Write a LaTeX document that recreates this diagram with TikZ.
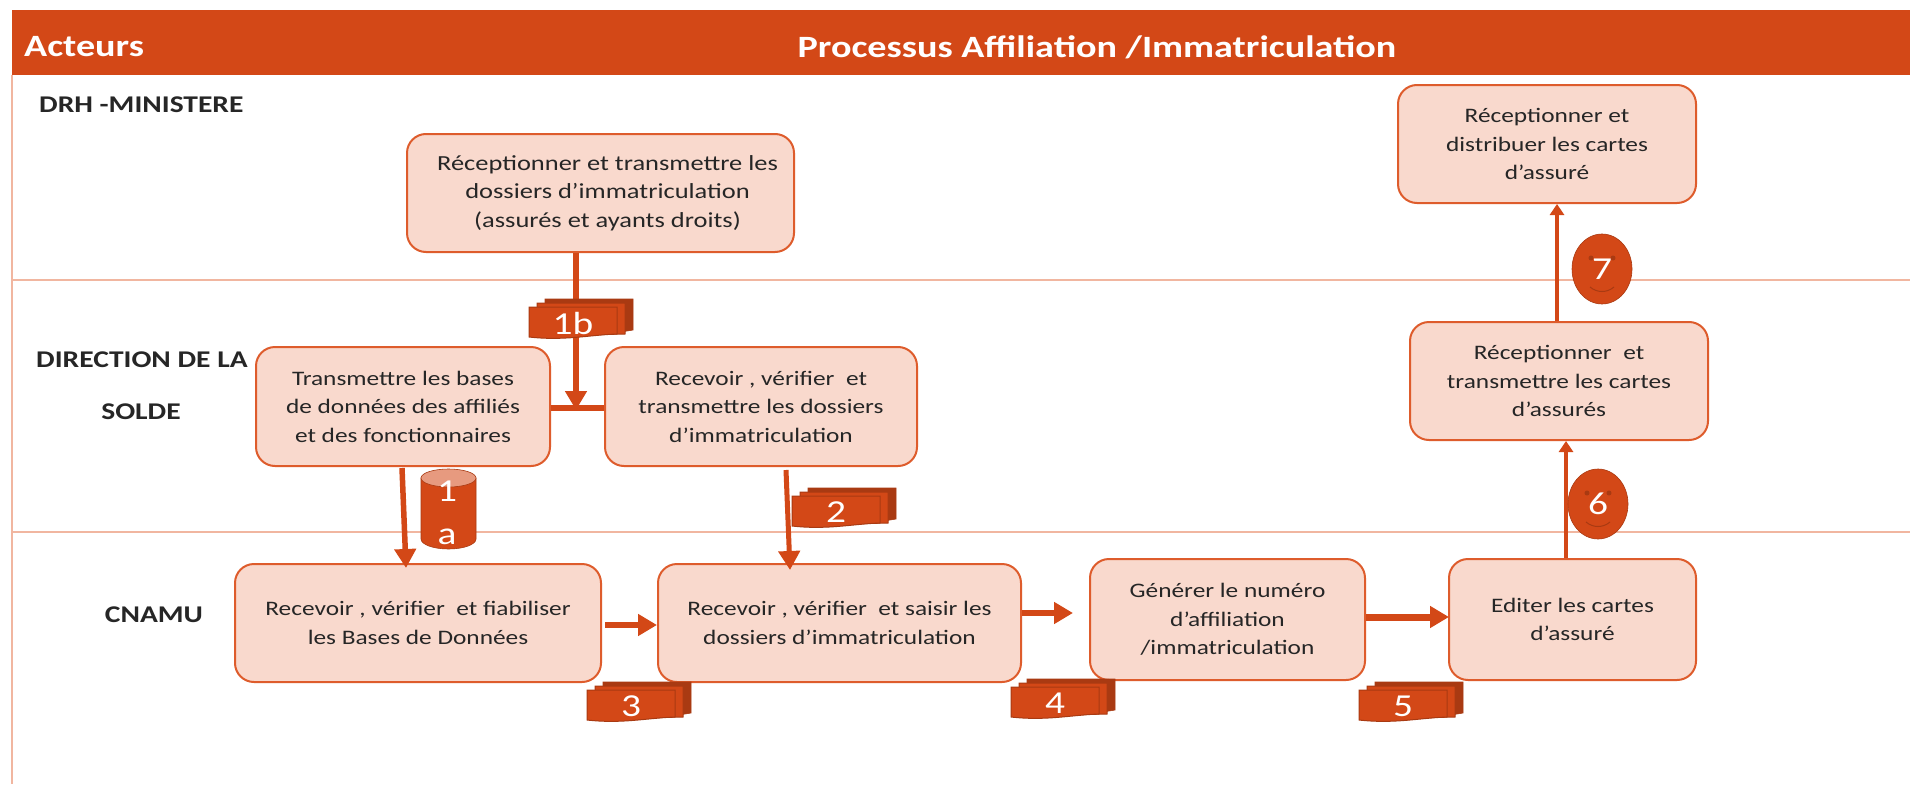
\documentclass[tikz,border=0pt]{standalone}
\usepackage{fontspec}
\setmainfont[FakeStretch=1.23]{Carlito}
\usetikzlibrary{arrows.meta,calc,shapes.geometric}
\definecolor{orangeA}{HTML}{D34817}
\definecolor{orangeB}{HTML}{DE5C2C}
\definecolor{orangeD}{HTML}{A93A12}
\definecolor{fillA}{HTML}{F9D9CD}
\definecolor{laneC}{HTML}{F1B6A0}
\tikzset{
  procbox/.style={draw=orangeB,fill=fillA,line width=2pt,rounded corners=19pt,align=center,
    text=black!85,font=\fontsize{20.6}{28.5}\selectfont,inner sep=0pt},
  wideproc/.style={procbox,font=\fontsize{21.5}{28.5}\selectfont},
  lane/.style={draw=laneC,line width=1.6pt},
  actor/.style={font=\bfseries\fontsize{24}{30}\selectfont,text=black!85,inner sep=0pt},
  headtext/.style={font=\bfseries\fontsize{31}{36}\selectfont,text=white,inner sep=0pt},
  flowA/.style={draw=orangeA,line width=6pt,-{Triangle[length=19pt,width=21pt]}},
  flowB/.style={draw=orangeA,line width=4pt,-{Triangle[length=11pt,width=14pt]}},
  flowC/.style={draw=orangeA,line width=6.5pt},
  badge/.style={text=white,font=\fontsize{32}{32}\selectfont,inner sep=0pt},
}
\newcommand{\docstack}[4]{%
  \begin{scope}[shift={(#1,#2)}]
    \draw[fill=orangeD,draw=orangeD,line width=.6pt] (16,0) -- (104,0) -- (104,31) -- (92,33) -- (16,33) -- cycle;
    \draw[fill=orangeA,draw=orangeD,line width=1pt] (8,4) -- (96,4) -- (96,35) -- (8,37) -- cycle;
    \draw[fill=orangeA,draw=orangeD,line width=1pt] (0,8) -- (88,8) -- (88,35) .. controls (60,36) and (35,42) .. (0,38) -- cycle;
    \node[badge] (#3) at (44,24) {#4};
  \end{scope}}
\newcommand{\smiley}[4]{%
  \node[ellipse,fill=orangeA,draw=orangeD,line width=.6pt,minimum width=60pt,minimum height=70pt,inner sep=0pt] (#3) at (#1,#2) {};
  \draw[orangeD,line width=1pt] (#1-12,#2+18) .. controls (#1-5,#2+24) and (#1+5,#2+24) .. (#1+12,#2+18);
  \fill[orangeD] (#1-11,#2-11) circle (2.5pt) (#1+11,#2-11) circle (2.5pt);
  \node[badge] (#3t) at (#1,#2) {#4};}
\begin{document}
\begin{tikzpicture}[x=1pt,y=-1pt]
\useasboundingbox (0,0) rectangle (1910,784);
\fill[white] (0,0) rectangle (1910,784);
% lanes
\draw[lane] (12,75) -- (12,784);
\draw[lane] (12,280) -- (1910,280);
\draw[lane] (12,532) -- (1910,532);
% header
\fill[orangeA] (12,10) rectangle (1910,75);
\node[headtext,anchor=west] (hact) at (24,47) {Acteurs};
\node[headtext] (hproc) at (1097,47) {Processus Affiliation /Immatriculation};
% actors
\node[actor,anchor=west] (a1) at (39,105) {DRH -MINISTERE};
\node[actor,anchor=west] (a2) at (36,360) {DIRECTION DE LA};
\node[actor] (a2b) at (141,412) {SOLDE};
\node[actor] (a3) at (154,615) {CNAMU};
% boxes
\node[wideproc,minimum width=387pt,minimum height=118pt] (b1) at (600.5,193) {\hspace*{14pt}Réceptionner et transmettre les\\\hspace*{14pt}dossiers d’immatriculation\\\hspace*{14pt}(assurés et ayants droits)};
\node[procbox,minimum width=294pt,minimum height=119pt] (b2) at (403,406.5) {Transmettre les bases\\de données des affiliés\\et des fonctionnaires};
\node[procbox,minimum width=312pt,minimum height=119pt] (b3) at (761,406.5) {Recevoir , vérifier\ \ et\\transmettre les dossiers\\d’immatriculation};
\node[procbox,minimum width=366pt,minimum height=118pt] (b4) at (418,623) {Recevoir , vérifier\ \ et fiabiliser\\les Bases de Données};
\node[procbox,minimum width=363pt,minimum height=118pt] (b5) at (839.5,623) {Recevoir , vérifier\ \ et saisir les\\dossiers d’immatriculation};
\node[procbox,minimum width=275pt,minimum height=121pt] (b6) at (1227.5,619.5) {Générer le numéro\\d’affiliation\\/immatriculation};
\node[procbox,minimum width=247pt,minimum height=121pt] (b7) at (1572.5,619.5) {Editer les cartes\\d’assuré};
\node[procbox,minimum width=298pt,minimum height=118pt] (b8) at (1559,381) {Réceptionner\ \ et\\transmettre les cartes\\d’assurés};
\node[procbox,minimum width=298pt,minimum height=118pt] (b9) at (1547,144) {Réceptionner et\\distribuer les cartes\\d’assuré};
% junction and free ends
\coordinate (j) at (576,408);
\coordinate (s24) at (402,468);
\coordinate (e24) at (406,568);
\coordinate (s35) at (786,470);
\coordinate (e35) at (790,570);
\coordinate (s45) at (605,625);
\coordinate (e45) at (657,625);
\coordinate (e56) at (1073,613);
\coordinate (a67) at (1366,617);
\coordinate (e67) at (1449,617);
\coordinate (x78) at (1566,500);
\coordinate (x89) at (1557,280);
% connectors
\draw[flowC] (b2.east |- j) -- (b3.west |- j);
\draw[flowA] (b1.south -| j) -- ([yshift=-2pt]j);
\draw[flowA,line width=5.5pt] (s24) -- (e24);
\draw[flowA,line width=5pt] (s35) -- (e35);
\draw[flowA] (s45) -- (e45);
\draw[flowA] (b5.east |- e56) -- (e56);
\draw[flowA,line width=7pt] (a67) -- (e67);
\draw[flowB] (b7.north -| x78) -- (b8.south -| x78);
\draw[flowB] (b8.north -| x89) -- (b9.south -| x89);
% documents
\docstack{529}{299}{d1b}{1b}
\docstack{792}{488}{d2}{2}
\docstack{587}{682}{d3}{3}
\docstack{1011}{679}{d4}{4}
\docstack{1359}{682}{d5}{5}
% database
\path[fill=orangeA,draw=orangeD,line width=.6pt] (421,478) -- (421,539) arc[start angle=180,end angle=360,x radius=27.5,y radius=-10] -- (476,478) -- cycle;
\draw[fill=orangeA!55!white,draw=orangeD,line width=.6pt] (448.5,478) ellipse[x radius=27.5,y radius=9];
\node[badge] (db1) at (447,491) {1};
\node[badge] (db2) at (447,537) {a};
% smileys
\smiley{1598}{504}{s6}{6}
\smiley{1602}{269}{s7}{7}
\end{tikzpicture}
\end{document}
